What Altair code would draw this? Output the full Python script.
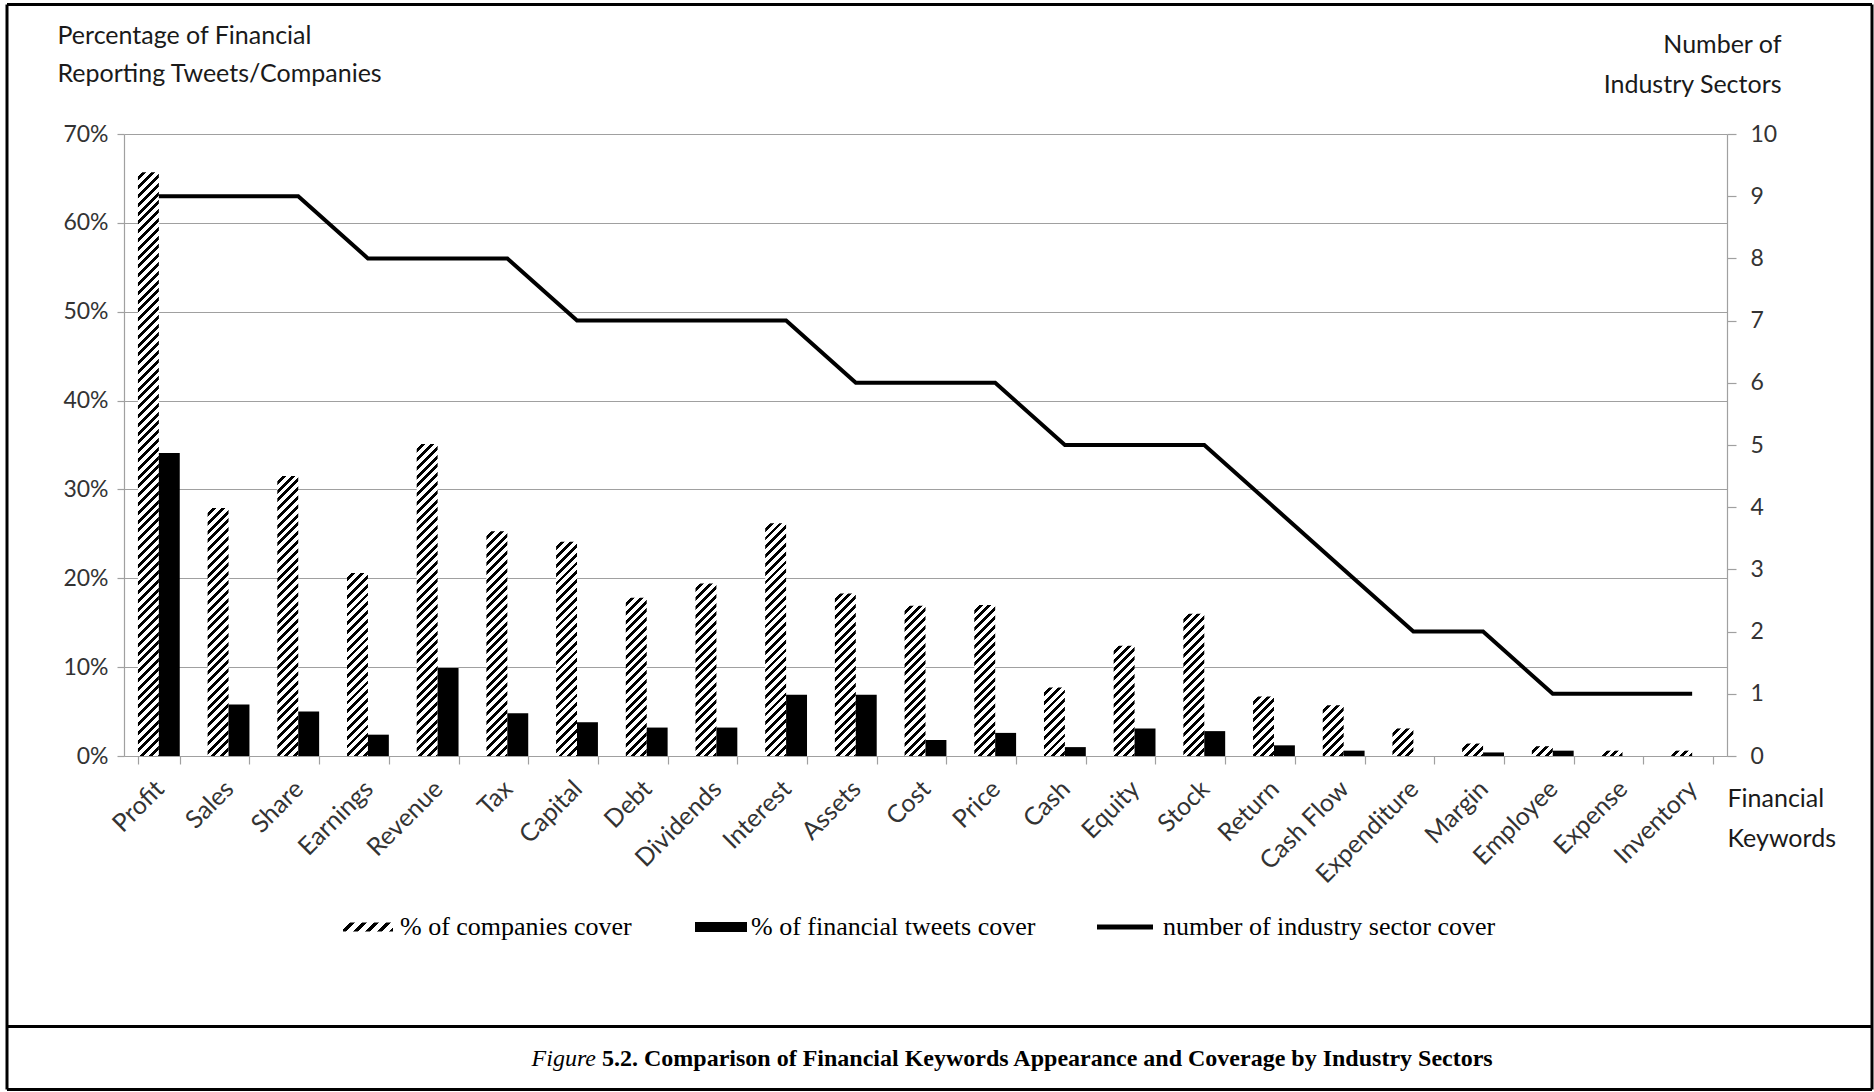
import altair as alt

# ---- data -------------------------------------------------------------
keywords = [
    "Profit", "Sales", "Share", "Earnings", "Revenue", "Tax", "Capital", "Debt",
    "Dividends", "Interest", "Assets", "Cost", "Price", "Cash", "Equity", "Stock",
    "Return", "Cash Flow", "Expenditure", "Margin", "Employee", "Expense", "Inventory",
]
companies_pct = [65.7, 27.9, 31.5, 20.6, 35.1, 25.3, 24.1, 17.8, 19.4, 26.2, 18.3, 16.9,
                 17.0, 7.7, 12.4, 16.0, 6.7, 5.7, 3.1, 1.4, 1.1, 0.6, 0.6]
tweets_pct = [34.1, 5.8, 5.0, 2.4, 9.9, 4.8, 3.8, 3.2, 3.2, 6.9, 6.9, 1.8,
              2.6, 1.0, 3.1, 2.8, 1.2, 0.6, 0.0, 0.4, 0.6, 0.0, 0.0]
sector_count = [9, 9, 9, 8, 8, 8, 7, 7, 7, 7, 6, 6, 6, 5, 5, 5, 4, 3, 2, 2, 1, 1, 1]

legend_labels = ["% of companies cover", "% of financial tweets cover",
                 "number of industry sector cover"]
left_title = ["Percentage of Financial", "Reporting Tweets/Companies"]
right_title = ["Number of", "Industry Sectors"]
x_title = ["Financial", "Keywords"]
caption_lead = "Figure"
caption_rest = "5.2. Comparison of Financial Keywords Appearance and Coverage by Industry Sectors"

# ---- geometry / style -------------------------------------------------
PLOT_W, PLOT_H = 1603, 622
PCT_MAX = 70
PAD_INNER = 0.4
STEP = PLOT_W / len(keywords)
BAR_W = STEP * (1 - PAD_INNER) / 2
GRID = "#a0a0a0"
LABEL_COLOR = "#333333"
TITLE_COLOR = "#1a1a1a"
SANS = "Lato"
SERIF = "Liberation Serif"


def hatch_fill(w, h, period=8.8, ink=0.45):
    """Diagonal '/' hatching as a striped linear gradient sized to a w x h box."""
    if h <= 0:
        return "#ffffff"
    s = (w + h) / (w * w + h * h)
    span = w + h
    stops = []
    k = 0
    while k * period < span:
        t0 = min(k * period / span, 1)
        t1 = min((k * period + period * (1 - ink)) / span, 1)
        t2 = min((k + 1) * period / span, 1)
        stops += [
            {"offset": t0, "color": "#ffffff"},
            {"offset": t1, "color": "#ffffff"},
            {"offset": t1, "color": "#000000"},
            {"offset": t2, "color": "#000000"},
        ]
        k += 1
    return {"gradient": "linear", "x1": 0, "y1": 0, "x2": s * w, "y2": s * h, "stops": stops}


bar_rows = []
for kw, c, t in zip(keywords, companies_pct, tweets_pct):
    bar_rows.append({"keyword": kw, "series": "companies", "value": c,
                     "paint": hatch_fill(BAR_W, c * PLOT_H / PCT_MAX)})
    bar_rows.append({"keyword": kw, "series": "tweets", "value": t, "paint": "#000000"})

line_rows = [{"keyword": kw, "sectors": n} for kw, n in zip(keywords, sector_count)]
one_row = alt.Data(values=[{"row": 0}])

x_enc = alt.X(
    "keyword:N", sort=keywords,
    scale=alt.Scale(paddingInner=PAD_INNER, paddingOuter=PAD_INNER / 2),
    axis=alt.Axis(
        labelAngle=-45, labelAlign="right", labelBaseline="top", labelOverlap=False,
        labelFontSize=25, labelOffset=-8, tickBand="extent", tickSize=8, labelPadding=12,
        domainColor=GRID, tickColor=GRID,
        title=x_title, titleAngle=0, titleAlign="left", titleBaseline="alphabetic",
        titleX=PLOT_W, titleY=50, titleLineHeight=40,
    ),
)

bars = alt.Chart(alt.Data(values=bar_rows)).mark_bar().encode(
    x=x_enc,
    xOffset=alt.XOffset("series:N", sort=["companies", "tweets"]),
    y=alt.Y(
        "value:Q", scale=alt.Scale(domain=[0, PCT_MAX], nice=False),
        axis=alt.Axis(
            values=list(range(0, PCT_MAX + 1, 10)), labelExpr="datum.value + '%'",
            grid=True, gridColor=GRID, gridWidth=1.2, domainColor=GRID, tickColor=GRID,
            tickSize=7, labelPadding=9,
            title=left_title, titleAngle=0, titleAlign="left", titleBaseline="alphabetic",
            titleX=-67, titleY=-91, titleLineHeight=38,
        ),
    ),
    fill=alt.Fill("paint:N", scale=None, legend=None),
)

line = alt.Chart(alt.Data(values=line_rows)).mark_line(
    color="#000000", strokeWidth=4
).encode(
    x=alt.X("keyword:N", sort=keywords),
    y=alt.Y(
        "sectors:Q", scale=alt.Scale(domain=[0, 10], nice=False),
        axis=alt.Axis(
            orient="right", values=list(range(0, 11)), grid=False,
            domainColor=GRID, tickColor=GRID, tickSize=9, labelPadding=14,
            title=right_title, titleAngle=0, titleAlign="right", titleBaseline="alphabetic",
            titleX=54, titleY=-82, titleLineHeight=40,
        ),
    ),
)

# ---- legend row --------------------------------------------------------
LEG_Y = 793
leg_hatch = alt.Chart(one_row).mark_rect().encode(
    x=alt.value(219), x2=alt.value(269), y=alt.value(LEG_Y - 4.5), y2=alt.value(LEG_Y + 4.5),
    fill=alt.value(hatch_fill(50, 9, period=12, ink=0.4)),
)
leg_solid = alt.Chart(one_row).mark_rect(color="#000000").encode(
    x=alt.value(571), x2=alt.value(623), y=alt.value(LEG_Y - 5), y2=alt.value(LEG_Y + 5),
)
leg_line = alt.Chart(one_row).mark_rule(color="#000000", strokeWidth=5).encode(
    x=alt.value(973), x2=alt.value(1029), y=alt.value(LEG_Y),
)
leg_text = [
    alt.Chart(one_row).mark_text(
        font=SERIF, fontSize=26, align="left", baseline="middle", color="#000000"
    ).encode(x=alt.value(px), y=alt.value(LEG_Y), text=alt.value(lbl))
    for px, lbl in zip([276, 627, 1039], legend_labels)
]

# ---- frame and caption ---------------------------------------------------
FL, FR, FT, FB, FSEP = -117, 1748, -129.5, 955.5, 892.5
frame = [
    alt.Chart(one_row).mark_rule(color="#000000", strokeWidth=3).encode(
        x=alt.value(FL), x2=alt.value(FR), y=alt.value(yy))
    for yy in (FT, FSEP, FB)
] + [
    alt.Chart(one_row).mark_rule(color="#000000", strokeWidth=3).encode(
        x=alt.value(xx), y=alt.value(FT), y2=alt.value(FB))
    for xx in (FL, FR)
]
CAP_Y = 925
cap_a = alt.Chart(one_row).mark_text(
    font=SERIF, fontSize=24, fontStyle="italic", align="right", baseline="middle", color="#000000"
).encode(x=alt.value(472), y=alt.value(CAP_Y), text=alt.value(caption_lead))
cap_b = alt.Chart(one_row).mark_text(
    font=SERIF, fontSize=24, fontWeight="bold", align="left", baseline="middle", color="#000000"
).encode(x=alt.value(478), y=alt.value(CAP_Y), text=alt.value(caption_rest))

chart = (
    alt.layer(bars, line, leg_hatch, leg_solid, leg_line, *leg_text, *frame, cap_a, cap_b)
    .resolve_scale(y="independent")
    .properties(
        width=PLOT_W, height=PLOT_H,
        autosize=alt.AutoSizeParams(type="none"),
        padding={"left": 124, "top": 134, "right": 1874 - 124 - PLOT_W,
                 "bottom": 1092 - 134 - PLOT_H},
        background="#ffffff",
    )
    .configure_view(stroke="transparent")
    .configure_axis(
        labelFont=SANS, labelFontSize=23, labelColor=LABEL_COLOR,
        titleFont=SANS, titleFontSize=25, titleFontWeight="normal", titleColor=TITLE_COLOR,
        domainWidth=1.2, tickWidth=1.2,
    )
)

chart.save("out.html", embed_options={"renderer": "svg", "actions": False})
